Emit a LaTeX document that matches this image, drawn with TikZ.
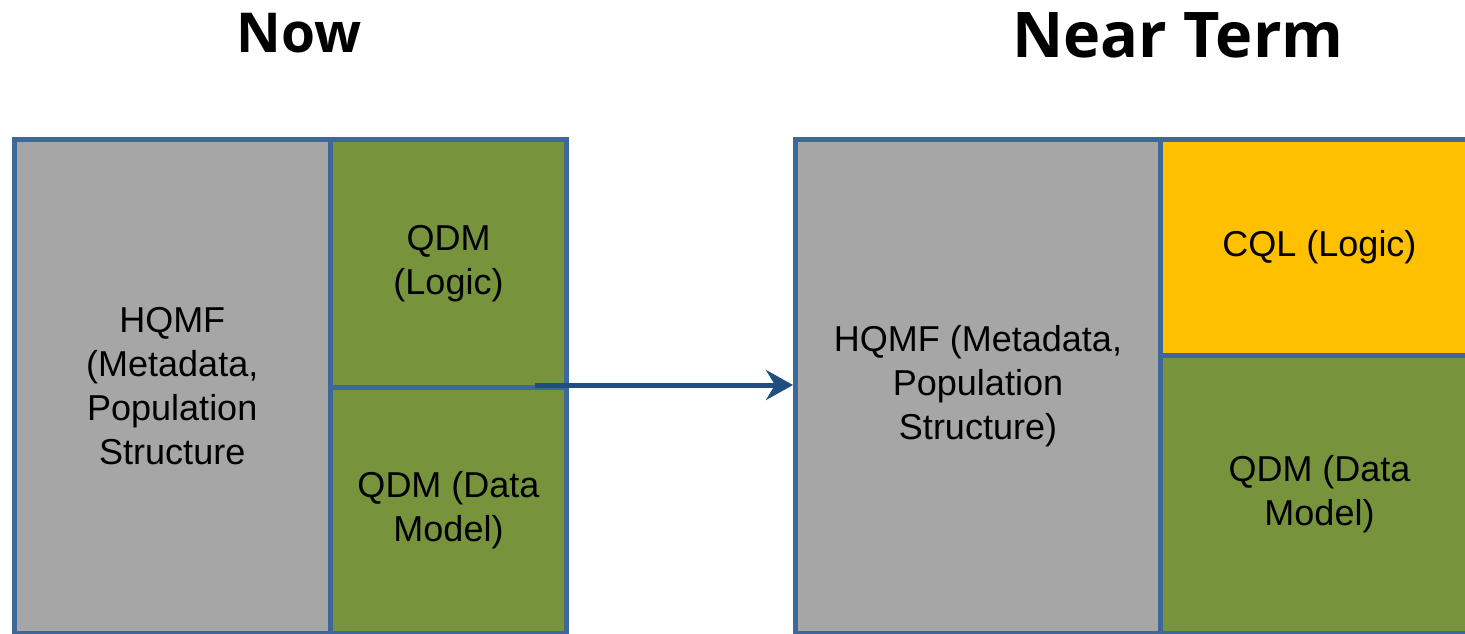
\documentclass[tikz,border=0pt]{standalone}
\usepackage{fontspec}
\setmainfont{Liberation Sans}
\newfontfamily\titlefont{Open Sans}
\usetikzlibrary{arrows.meta}
\definecolor{cellgray}{HTML}{A6A6A6}
\definecolor{cellgreen}{HTML}{77933C}
\definecolor{cellyellow}{HTML}{FFC000}
\definecolor{cellborder}{HTML}{3E6899}
\definecolor{arrowblue}{HTML}{1F4E80}
\tikzset{
  cell/.style={draw=cellborder, line width=5pt, anchor=north west, inner sep=0pt,
    align=center, font=\fontsize{36}{44}\selectfont, text=black},
  titletext/.style={anchor=base, inner sep=0pt, text=black},
  flowarrow/.style={draw=arrowblue, line width=5pt,
    -{Stealth[length=27pt,width=30pt,inset=9pt]}}
}
\begin{document}
\begin{tikzpicture}[x=1pt,y=-1pt]
\useasboundingbox (0,0) rectangle (1465,633);
% titles
\node[titletext, font=\titlefont\bfseries\fontsize{55}{60}\selectfont] (tnow) at (299,52) {Now};
\node[titletext, font=\titlefont\bfseries\fontsize{63}{70}\selectfont] (tnear) at (1178,57) {Near Term};
% left group
\node[cell, fill=cellgray, minimum width=316.5pt, minimum height=494pt] (lhq) at (11.5,137)
  {HQMF\\(Metadata,\\Population\\Structure};
\node[cell, fill=cellgreen, minimum width=236pt, minimum height=248pt] (llog) at (328,137)
  {QDM\\(Logic)};
\node[cell, fill=cellgreen, minimum width=236pt, minimum height=246pt] (ldm) at (328,385)
  {QDM (Data\\Model)};
% right group
\node[cell, fill=cellgray, minimum width=365pt, minimum height=494pt] (rhq) at (793,137)
  {HQMF (Metadata,\\Population\\Structure)};
\node[cell, fill=cellyellow, minimum width=318pt, minimum height=215.5pt] (rcql) at (1158,137)
  {CQL (Logic)};
\node[cell, fill=cellgreen, minimum width=318pt, minimum height=278.5pt] (rdm) at (1158,352.5)
  {QDM (Data\\Model)};
% arrow
\coordinate (astart) at (535,385);
\draw[flowarrow] (astart) -- (rhq.west |- astart);
\end{tikzpicture}
\end{document}
